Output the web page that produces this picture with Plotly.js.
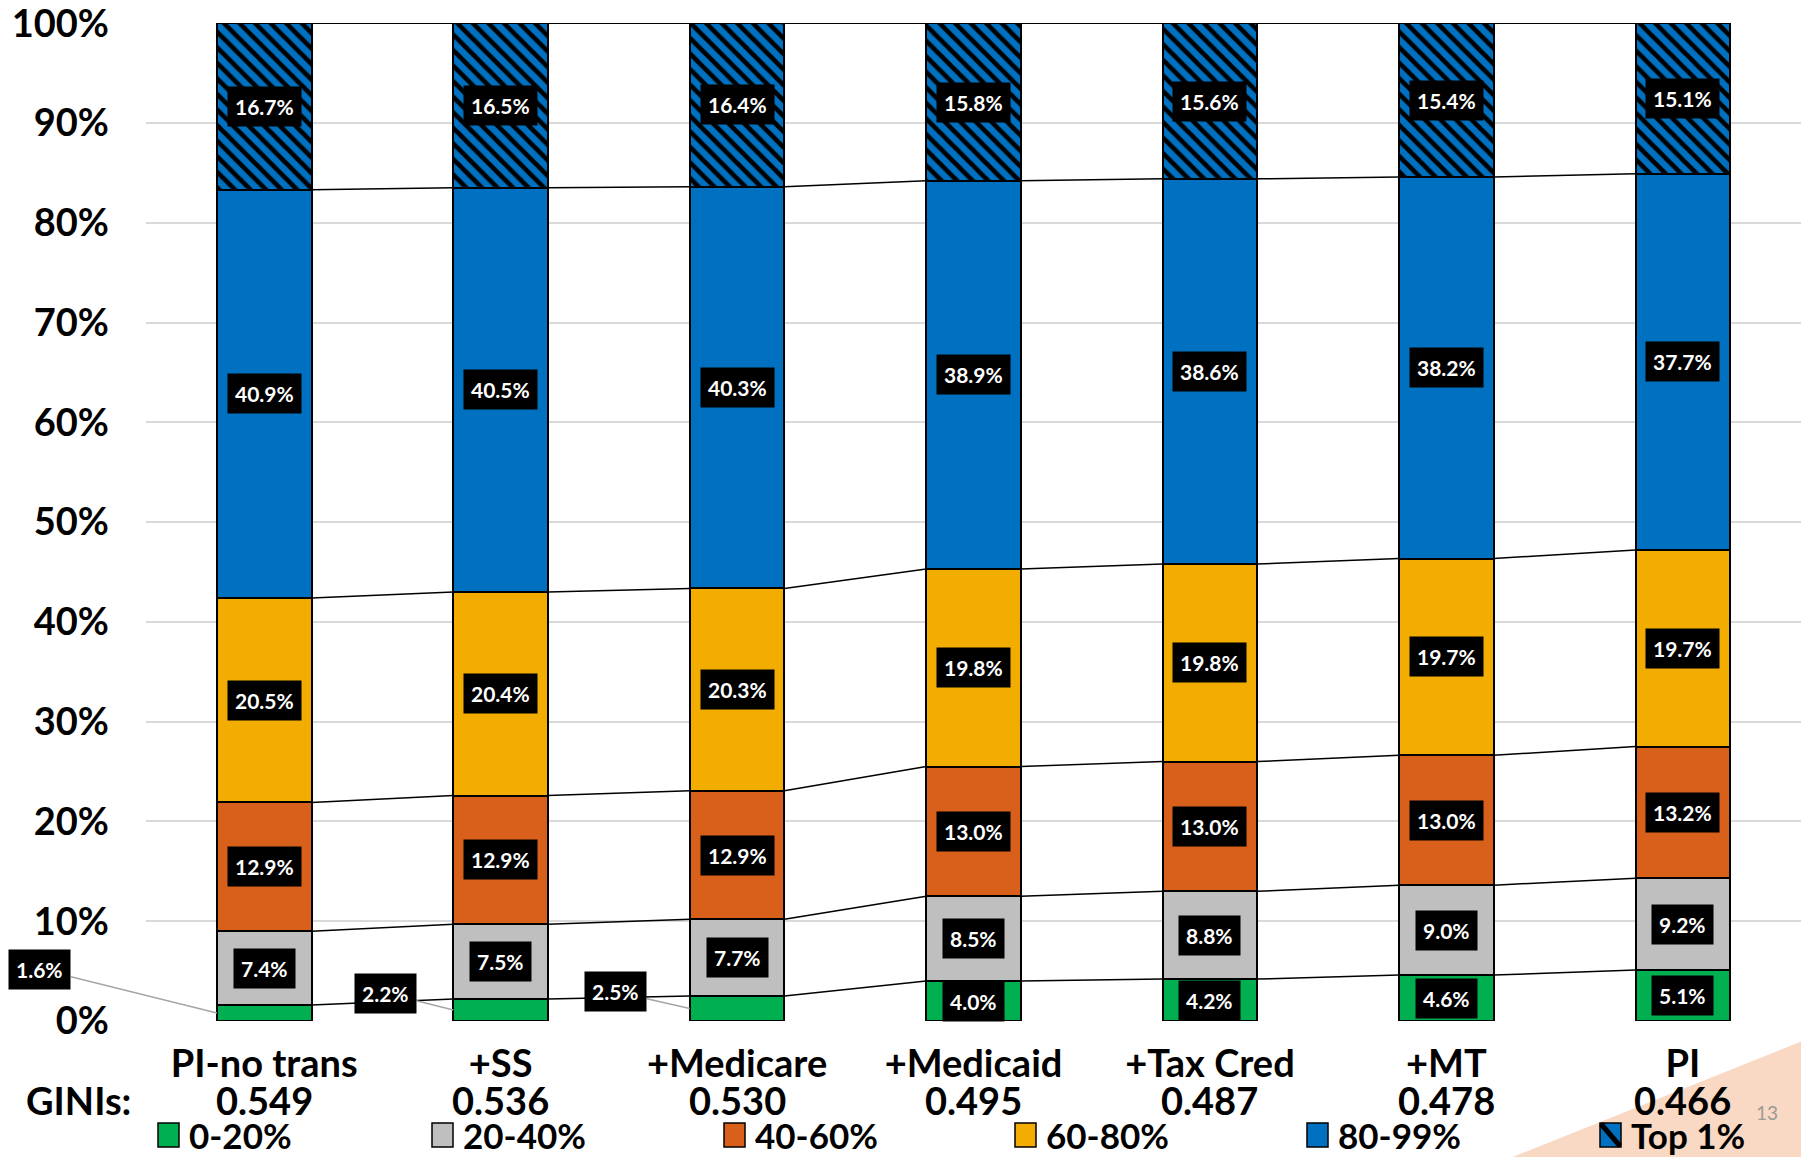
<!DOCTYPE html>
<html><head><meta charset="utf-8">
<script src="https://cdn.plot.ly/plotly-3.0.1.min.js"></script>
<style>html,body{margin:0;padding:0;background:#fff;} #chart{width:1801px;height:1157px;}</style>
</head><body><div id="chart"></div>
<script>
// ---- data ----
const categories = ["PI-no trans", "+SS", "+Medicare", "+Medicaid", "+Tax Cred", "+MT", "PI"];
const ginis = ["0.549", "0.536", "0.530", "0.495", "0.487", "0.478", "0.466"];
const seriesNames = ["0-20%", "20-40%", "40-60%", "60-80%", "80-99%", "Top 1%"];
const q1 = [1.6, 2.2, 2.5, 4.0, 4.2, 4.6, 5.1];
const q2 = [7.4, 7.5, 7.7, 8.5, 8.8, 9.0, 9.2];
const q3 = [12.9, 12.9, 12.9, 13.0, 13.0, 13.0, 13.2];
const q4 = [20.5, 20.4, 20.3, 19.8, 19.8, 19.7, 19.7];
const q5 = [40.9, 40.5, 40.3, 38.9, 38.6, 38.2, 37.7];
const top1 = [16.7, 16.5, 16.4, 15.8, 15.6, 15.4, 15.1];
const yTickVals = [0, 10, 20, 30, 40, 50, 60, 70, 80, 90, 100];
const yTickText = ["0%", "10%", "20%", "30%", "40%", "50%", "60%", "70%", "80%", "90%", "100%"];

// ---- style ----
const series = [q1, q2, q3, q4, q5, top1];
const colors = ["#00B050", "#BFBFBF", "#D9601A", "#F2AD00", "#0070C0", "#0070C0"];
const FONT = "Lato, 'Liberation Sans', sans-serif";
const BIG = 38;
const BAR_W = 0.4;
const W = 1801, H = 1157;
const M = {l: 146, r: 0, t: 23, b: 136};
const PW = W - M.l - M.r, PH = H - M.t - M.b;
const px2x = p => (p - M.l) / PW;
const px2y = p => (H - M.b - p) / PH;
const xIdx = categories.map((c, i) => i);

// normalized cumulative values
const totals = xIdx.map(i => series.reduce((s, a) => s + a[i], 0));
const cumTop = [], cumBot = [];
series.forEach((arr, s) => {
  cumBot.push(xIdx.map(i => (s === 0 ? 0 : cumTop[s - 1][i])));
  cumTop.push(xIdx.map(i => cumBot[s][i] + arr[i] / totals[i] * 100));
});

const traces = series.map((arr, s) => {
  const t = {
    type: 'bar', x: xIdx, y: arr, name: seriesNames[s], width: BAR_W,
    marker: {color: colors[s], line: {color: '#000', width: 2}},
    hoverinfo: 'skip'
  };
  if (s === 5) {
    t.marker.pattern = {shape: '\\', fgcolor: '#000', bgcolor: '#0070C0', size: 11, solidity: 0.42, fillmode: 'replace'};
  }
  return t;
});

// series lines between bars
series.forEach((arr, s) => {
  const lx = [], ly = [];
  for (let i = 0; i < xIdx.length - 1; i++) {
    lx.push(i + BAR_W / 2, i + 1 - BAR_W / 2, null);
    ly.push(cumTop[s][i], cumTop[s][i + 1], null);
  }
  traces.push({type: 'scatter', mode: 'lines', x: lx, y: ly, line: {color: '#000', width: 1.5}, hoverinfo: 'skip', showlegend: false, cliponaxis: false});
});

// data labels
const annotations = [];
const outsideOffsets = {0: [-177, -44], 1: [-68, -17], 2: [-74, -17]};
series.forEach((arr, s) => {
  xIdx.forEach(i => {
    const mid = (cumBot[s][i] + cumTop[s][i]) / 2;
    const a = {
      x: i, y: mid, xref: 'x', yref: 'y', text: arr[i].toFixed(1) + '%',
      showarrow: false, bgcolor: '#000', borderpad: 7,
      font: {family: FONT, size: 21, color: '#fff', weight: 'bold'}
    };
    if (s === 0 && arr[i] < 3 && outsideOffsets[i]) {
      a.x = i - BAR_W / 2;
      a.showarrow = true; a.arrowhead = 0; a.arrowwidth = 1.5; a.arrowcolor = '#A6A6A6';
      a.ax = outsideOffsets[i][0]; a.ay = outsideOffsets[i][1]; a.standoff = 0;
    }
    annotations.push(a);
  });
});

// GINI row
annotations.push({x: px2x(78), y: px2y(1100), xref: 'paper', yref: 'paper', text: 'GINIs:', showarrow: false,
  font: {family: FONT, size: BIG, color: '#000', weight: 'bold'}, xanchor: 'center', yanchor: 'middle'});
xIdx.forEach(i => annotations.push({x: i, y: px2y(1100), xref: 'x', yref: 'paper', text: ginis[i], showarrow: false,
  font: {family: FONT, size: BIG, color: '#000', weight: 'bold'}, xanchor: 'center', yanchor: 'middle'}));

// page number
annotations.push({x: px2x(1767), y: px2y(1112), xref: 'paper', yref: 'paper', text: '13', showarrow: false,
  font: {family: FONT, size: 19, color: '#999999'}, xanchor: 'center', yanchor: 'middle'});

// custom legend
const shapes = [];
shapes.push({type: 'path', xref: 'paper', yref: 'paper', layer: 'below',
  path: `M ${px2x(1505)} ${px2y(1160)} L ${px2x(1805)} ${px2y(1040)} L ${px2x(1805)} ${px2y(1160)} Z`,
  fillcolor: '#F9D9C3', line: {width: 0}});
const legLeft = [158, 432, 724, 1015, 1307, 1600];
seriesNames.forEach((n, s) => {
  const x0 = legLeft[s], x1 = legLeft[s] + 21, y0 = 1123, y1 = 1147;
  shapes.push({type: 'rect', xref: 'paper', yref: 'paper', x0: px2x(x0), x1: px2x(x1), y0: px2y(y1), y1: px2y(y0),
    fillcolor: colors[s], line: {color: '#000', width: 1.5}});
  if (s === 5) {
    shapes.push({type: 'line', xref: 'paper', yref: 'paper', x0: px2x(x0 + 1), y0: px2y(y0 + 1), x1: px2x(x1 - 1), y1: px2y(y1 - 1),
      line: {color: '#000', width: 5}});
  }
  annotations.push({x: px2x(x1 + 8), y: px2y(1135), xref: 'paper', yref: 'paper', text: n, showarrow: false,
    xanchor: 'left', yanchor: 'middle', font: {family: FONT, size: 35, color: '#000', weight: 'bold'}});
});

const layout = {
  width: W, height: H, margin: M,
  paper_bgcolor: '#fff', plot_bgcolor: '#fff',
  barmode: 'stack', barnorm: 'percent', showlegend: false,
  xaxis: {range: [-0.5, 6.5], tickvals: xIdx, ticktext: categories, showgrid: false, zeroline: false, showline: false,
    ticks: '', ticklabelstandoff: 17, ticklabeloverflow: 'allow',
    tickfont: {family: FONT, size: BIG, color: '#000', weight: 'bold'}, fixedrange: true},
  yaxis: {range: [0, 100.02], tickvals: yTickVals, ticktext: yTickText, showgrid: true, gridcolor: '#D9D9D9', gridwidth: 2,
    zeroline: false, showline: false, ticks: '', ticklabelstandoff: 36, ticklabeloverflow: 'allow',
    tickfont: {family: FONT, size: BIG, color: '#000', weight: 'bold'}, fixedrange: true},
  annotations: annotations, shapes: shapes
};
Plotly.newPlot('chart', traces, layout, {displayModeBar: false, staticPlot: true});
</script>
</body></html>
